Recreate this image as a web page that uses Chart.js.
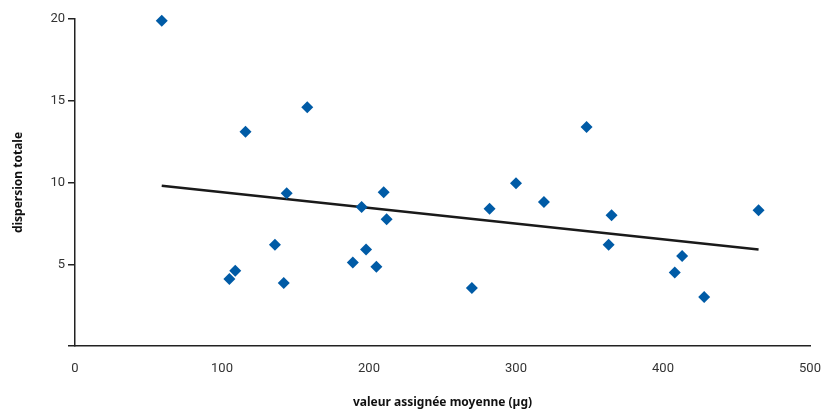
<!DOCTYPE html>
<html>
<head>
<meta charset="utf-8">
<script src="https://cdn.jsdelivr.net/npm/chart.js@4/dist/chart.umd.min.js"></script>
<style>
  html, body { margin: 0; padding: 0; background: #fff; }
  #wrap { width: 824px; height: 410px; }
</style>
</head>
<body>
<div id="wrap"><canvas id="chart"></canvas></div>
<script>
// points
const valeurX = [59, 116, 158, 144, 136, 105, 109, 142, 195, 210, 212, 198, 189, 205, 270, 282, 300, 319, 348, 365, 363, 413, 408, 428, 465];
const dispersionY = [19.9, 13.1, 14.6, 9.35, 6.2, 4.1, 4.6, 3.85, 8.5, 9.4, 7.75, 5.9, 5.1, 4.85, 3.55, 8.4, 9.95, 8.8, 13.4, 8.0, 6.2, 5.5, 4.5, 3.0, 8.3];

// trend line ends
const trendX = [59, 465];
const trendY = [9.8, 5.9];

const xTicks = [0, 100, 200, 300, 400, 500];
const yTicks = [0, 5, 10, 15, 20];

const points = valeurX.map((x, i) => ({ x, y: dispersionY[i] }));
const trend = trendX.map((x, i) => ({ x, y: trendY[i] }));

const tickFont = { family: "Roboto", size: 13 };
const titleFont = { family: "Noto Sans", size: 12, weight: "bold" };

new Chart(document.getElementById("chart"), {
  type: "scatter",
  data: {
    datasets: [
      {
        label: "tendance",
        data: trend,
        showLine: true,
        borderColor: "#1a1a1a",
        borderWidth: 2.5,
        pointRadius: 0,
        order: 2,
      },
      {
        label: "laboratoires",
        data: points,
        clip: false,
        pointStyle: "rectRot",
        pointRadius: 6,
        pointHoverRadius: 6,
        backgroundColor: "#005ba6",
        borderColor: "#005ba6",
        borderWidth: 0,
        order: 1,
      },
    ],
  },
  options: {
    responsive: true,
    maintainAspectRatio: false,
    animation: false,
    layout: { padding: { top: 19, right: 0, bottom: 0, left: 0 } },
    plugins: { legend: { display: false }, tooltip: { enabled: false } },
    scales: {
      x: {
        type: "linear",
        min: 0,
        max: 500,
        afterBuildTicks: (s) => { s.ticks = xTicks.map((v) => ({ value: v })); },
        afterFit: (s) => { s.height = 64; s.paddingRight = 14; },
        grid: { drawOnChartArea: false, drawTicks: false },
        border: { display: true, color: "#222", width: 1.5 },
        ticks: { font: tickFont, color: "#333", padding: 15, maxRotation: 0 },
        title: {
          display: true,
          text: "valeur assignée moyenne (µg)",
          font: titleFont,
          color: "#111",
          padding: { top: 0, bottom: 0 },
        },
      },
      y: {
        type: "linear",
        min: 0,
        max: 20,
        afterBuildTicks: (s) => { s.ticks = yTicks.map((v) => ({ value: v })); },
        afterFit: (s) => { s.width = 75; },
        grid: { drawOnChartArea: false, drawTicks: true, tickLength: 7, color: "#222", lineWidth: 1.5 },
        border: { display: true, color: "#222", width: 1.5 },
        ticks: {
          font: tickFont,
          color: "#333",
          padding: 3,
          callback: (v) => (v === 0 ? "" : v),
        },
        title: {
          display: true,
          text: "dispersion totale",
          font: titleFont,
          color: "#111",
          padding: { top: 11, bottom: 0 },
        },
      },
    },
  },
});
</script>
</body>
</html>
